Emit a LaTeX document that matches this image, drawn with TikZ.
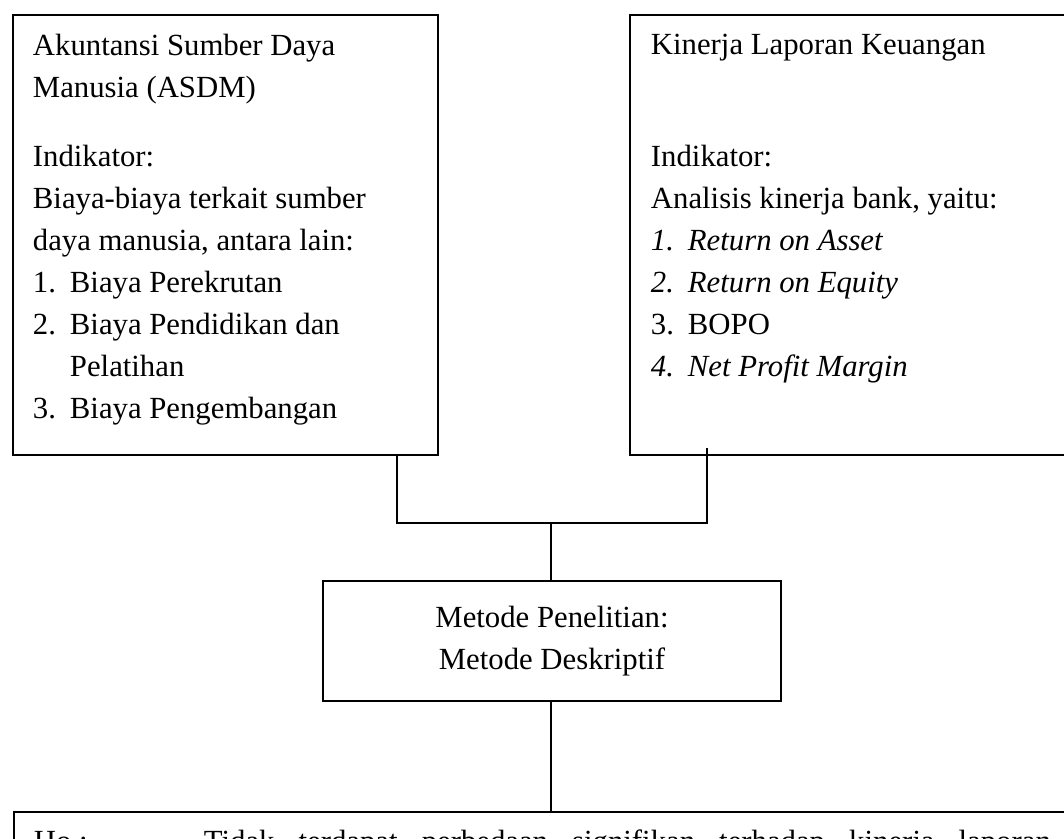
\documentclass[tikz,border=0pt]{standalone}
\usepackage{fontspec}
\setmainfont{Liberation Serif}
\usepackage{tikz}
\usetikzlibrary{positioning,calc}

\newcommand{\nomor}[1]{\makebox[0.74cm][l]{#1}}

\begin{document}
\begin{tikzpicture}[x=0.02cm,y=-0.02cm,
  box/.style={draw,line width=1.1pt,rectangle,anchor=north west,inner xsep=0.4cm,inner ysep=0.38cm,font=\fontsize{17.5pt}{23.9pt}\selectfont},
  ln/.style={line width=0.7pt}]
  \useasboundingbox (0,0) rectangle (1064,838);
  \clip (0,0) rectangle (1064,838);
  \node[box] (asdm) at (12,14) {\parbox[t][8.04cm][t]{7.7cm}{\raggedright
    Akuntansi Sumber Daya\\
    Manusia (ASDM)\\[0.54cm]
    Indikator:\\
    Biaya-biaya terkait sumber\\
    daya manusia, antara lain:\\
    \nomor{1.}Biaya Perekrutan\\
    \nomor{2.}Biaya Pendidikan dan\\
    \hspace*{0.74cm}Pelatihan\\
    \nomor{3.}Biaya Pengembangan}};
  \node[box,inner xsep=0.42cm] (kinerja) at (629,14) {\parbox[t][8.04cm][t]{9.6cm}{\raggedright
    Kinerja Laporan Keuangan\\[1.4cm]
    Indikator:\\
    Analisis kinerja bank, yaitu:\\
    \textit{\nomor{1.}Return on Asset}\\
    \textit{\nomor{2.}Return on Equity}\\
    \nomor{3.}BOPO\\
    \textit{\nomor{4.}Net Profit Margin}}};
  \node[box,anchor=center,minimum width=9.16cm,minimum height=2.4cm,align=center] (metode) at (552,641)
    {Metode Penelitian:\\Metode Deskriptif};
  \node[box,inner ysep=0.36cm] (hipo) at (13,811)
    {\parbox[t][2.5cm][t]{21cm}{\makebox[3.4cm][l]{Ho :}\makebox[16.94cm][s]{Tidak terdapat perbedaan signifikan terhadap kinerja laporan}}};
  % sambungan
  \coordinate (jl) at (397,523);
  \coordinate (jr) at (707,523);
  \coordinate (jm) at (551,523);
  \draw[ln] (asdm.south -| jl) -- (jl) -- (jr) -- ++(0,-75);
  \draw[ln] (jm) -- (jm |- metode.north);
  \draw[ln] (metode.south -| jm) -- (hipo.north -| jm);
\end{tikzpicture}
\end{document}
